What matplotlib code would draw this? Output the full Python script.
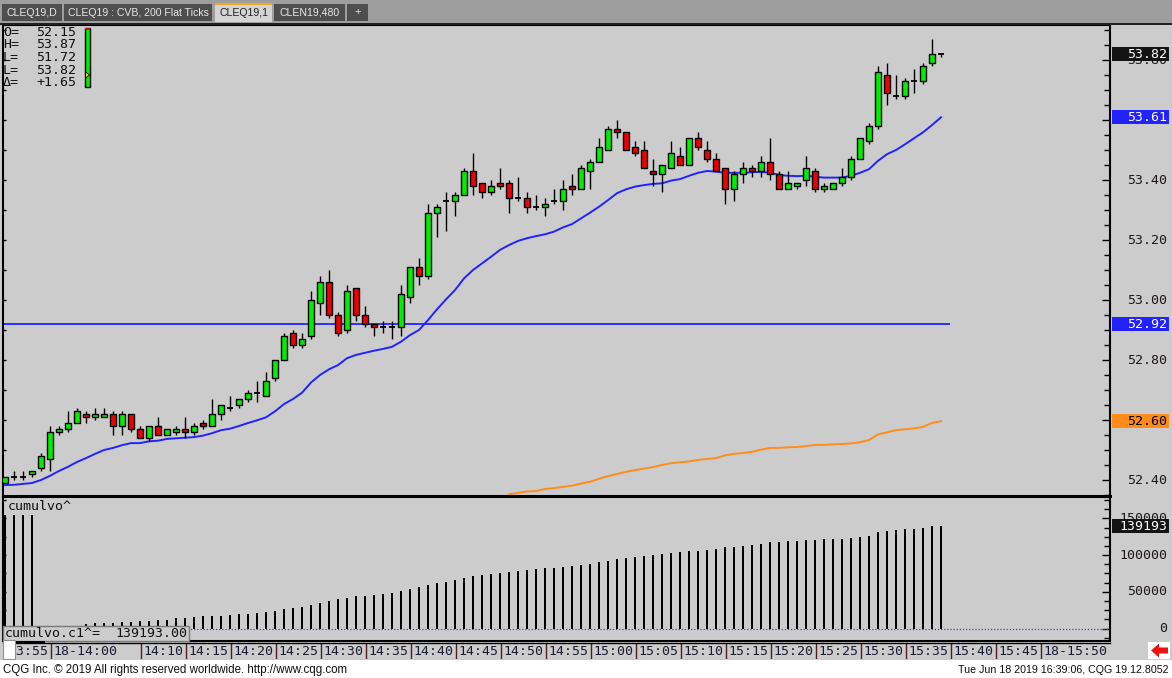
import matplotlib
matplotlib.use('Agg')
import matplotlib.pyplot as plt
import matplotlib.transforms as mtransforms
from matplotlib.patches import Rectangle, Polygon
from matplotlib.ticker import MultipleLocator, FixedLocator
import numpy as np

W, H = 1172, 678
BG = '#cccccc'
MONO = 'DejaVu Sans Mono'

# CLEQ19, 1 minute bars starting 13:55
opens = [52.39, 52.41, 52.41, 52.42, 52.44, 52.47, 52.56, 52.57, 52.59, 52.62,
         52.61, 52.61, 52.62, 52.58, 52.62, 52.57, 52.54, 52.58, 52.55, 52.56,
         52.57, 52.56, 52.59, 52.58, 52.62, 52.64, 52.65, 52.67, 52.69, 52.68,
         52.74, 52.80, 52.89, 52.85, 52.88, 52.99, 53.06, 52.95, 52.90, 53.04,
         52.95, 52.92, 52.91, 52.91, 52.91, 53.01, 53.11, 53.08, 53.29, 53.33,
         53.33, 53.35, 53.43, 53.39, 53.36, 53.39, 53.39, 53.34, 53.34, 53.31,
         53.31, 53.33, 53.33, 53.38, 53.37, 53.43, 53.46, 53.50, 53.57, 53.56,
         53.51, 53.50, 53.43, 53.42, 53.44, 53.48, 53.45, 53.54, 53.50, 53.47,
         53.44, 53.37, 53.42, 53.44, 53.43, 53.46, 53.42, 53.37, 53.38, 53.40,
         53.43, 53.37, 53.37, 53.39, 53.41, 53.47, 53.53, 53.58, 53.75, 53.68,
         53.68, 53.73, 53.73, 53.79, 53.82]
highs = [52.41, 52.43, 52.43, 52.43, 52.49, 52.58, 52.58, 52.63, 52.64, 52.63,
         52.64, 52.64, 52.63, 52.63, 52.62, 52.58, 52.58, 52.61, 52.57, 52.58,
         52.61, 52.59, 52.60, 52.67, 52.65, 52.68, 52.67, 52.70, 52.73, 52.76,
         52.80, 52.89, 52.90, 52.89, 53.03, 53.08, 53.10, 52.96, 53.05, 53.04,
         52.98, 52.92, 52.93, 52.93, 53.05, 53.11, 53.14, 53.32, 53.32, 53.36,
         53.36, 53.44, 53.49, 53.39, 53.40, 53.44, 53.40, 53.41, 53.36, 53.35,
         53.34, 53.37, 53.40, 53.42, 53.45, 53.47, 53.54, 53.58, 53.60, 53.56,
         53.53, 53.53, 53.47, 53.45, 53.53, 53.51, 53.54, 53.56, 53.53, 53.49,
         53.44, 53.43, 53.46, 53.45, 53.48, 53.54, 53.43, 53.43, 53.39, 53.48,
         53.44, 53.39, 53.39, 53.44, 53.48, 53.54, 53.59, 53.78, 53.79, 53.75,
         53.74, 53.77, 53.79, 53.87, 53.82]
lows = [52.39, 52.40, 52.40, 52.41, 52.43, 52.43, 52.55, 52.56, 52.59, 52.59,
        52.60, 52.61, 52.55, 52.55, 52.56, 52.54, 52.53, 52.55, 52.55, 52.55,
        52.54, 52.55, 52.57, 52.58, 52.60, 52.63, 52.64, 52.66, 52.66, 52.68,
        52.73, 52.80, 52.84, 52.84, 52.87, 52.95, 52.94, 52.88, 52.89, 52.93,
        52.91, 52.88, 52.89, 52.87, 52.88, 52.99, 53.05, 53.07, 53.21, 53.23,
        53.28, 53.35, 53.35, 53.34, 53.35, 53.37, 53.29, 53.33, 53.29, 53.30,
        53.28, 53.32, 53.30, 53.35, 53.37, 53.37, 53.46, 53.50, 53.54, 53.50,
        53.48, 53.44, 53.38, 53.36, 53.44, 53.45, 53.45, 53.50, 53.46, 53.43,
        53.32, 53.33, 53.39, 53.41, 53.41, 53.40, 53.37, 53.37, 53.37, 53.38,
        53.36, 53.36, 53.37, 53.38, 53.40, 53.47, 53.52, 53.57, 53.65, 53.67,
        53.67, 53.69, 53.72, 53.78, 53.81]
closes = [52.41, 52.41, 52.41, 52.43, 52.48, 52.56, 52.57, 52.59, 52.63, 52.61,
          52.62, 52.62, 52.58, 52.62, 52.57, 52.54, 52.58, 52.55, 52.57, 52.57,
          52.56, 52.58, 52.58, 52.62, 52.65, 52.64, 52.67, 52.69, 52.69, 52.73,
          52.80, 52.88, 52.85, 52.87, 53.00, 53.06, 52.95, 52.89, 53.03, 52.95,
          52.92, 52.91, 52.91, 52.91, 53.02, 53.11, 53.08, 53.29, 53.31, 53.33,
          53.35, 53.43, 53.38, 53.36, 53.38, 53.38, 53.34, 53.34, 53.31, 53.31,
          53.32, 53.33, 53.37, 53.37, 53.44, 53.46, 53.51, 53.57, 53.56, 53.50,
          53.49, 53.44, 53.42, 53.45, 53.49, 53.45, 53.54, 53.51, 53.47, 53.43,
          53.37, 53.42, 53.44, 53.43, 53.46, 53.42, 53.37, 53.39, 53.39, 53.44,
          53.37, 53.38, 53.39, 53.41, 53.47, 53.54, 53.58, 53.76, 53.69, 53.68,
          53.73, 53.73, 53.78, 53.82, 53.82]

blue_ma = [52.383, 52.384, 52.387, 52.390, 52.400, 52.414, 52.430, 52.444, 52.460, 52.473,
           52.487, 52.500, 52.507, 52.516, 52.523, 52.523, 52.529, 52.531, 52.537, 52.539,
           52.541, 52.543, 52.548, 52.556, 52.566, 52.571, 52.580, 52.590, 52.599, 52.609,
           52.629, 52.653, 52.670, 52.691, 52.725, 52.750, 52.769, 52.783, 52.806, 52.817,
           52.824, 52.831, 52.837, 52.844, 52.861, 52.883, 52.900, 52.933, 52.969, 53.002,
           53.033, 53.072, 53.100, 53.122, 53.144, 53.167, 53.183, 53.197, 53.206, 53.213,
           53.219, 53.228, 53.242, 53.253, 53.272, 53.291, 53.311, 53.333, 53.356, 53.369,
           53.378, 53.383, 53.387, 53.389, 53.398, 53.403, 53.414, 53.424, 53.430, 53.428,
           53.424, 53.424, 53.424, 53.426, 53.427, 53.424, 53.417, 53.414, 53.413, 53.414,
           53.411, 53.408, 53.408, 53.408, 53.414, 53.424, 53.436, 53.464, 53.486, 53.500,
           53.519, 53.539, 53.559, 53.583, 53.609]

orange_start = 56
orange_ma = [52.352, 52.357, 52.362, 52.363, 52.370, 52.373, 52.377, 52.381, 52.388, 52.394,
             52.404, 52.413, 52.420, 52.427, 52.433, 52.438, 52.443, 52.450, 52.456, 52.459,
             52.462, 52.467, 52.470, 52.473, 52.482, 52.487, 52.490, 52.494, 52.501, 52.507,
             52.507, 52.509, 52.510, 52.513, 52.517, 52.517, 52.519, 52.520, 52.522, 52.526,
             52.533, 52.552, 52.559, 52.566, 52.569, 52.572, 52.577, 52.590, 52.596]

cum_volume = [154600, 154600, 154600, 154600, 800, 1900, 2800, 3300, 3700,
              6130, 7040, 7490, 7950, 8860, 8860, 10220, 10220, 11580, 11580,
              13850, 14300, 15210, 16580, 17030, 17030, 18390, 19750, 19750, 21120,
              22480, 23840, 26570, 27930, 29290, 32020, 34740, 37470, 40190, 41550,
              44280, 44280, 45640, 47000, 48370, 51090, 53810, 56540, 59260, 61990,
              63350, 66080, 68800, 71530, 72890, 74250, 75610, 76980, 78340, 79700,
              81060, 82430, 82430, 83790, 85150, 86510, 87870, 90600, 91960, 94690,
              96050, 97410, 98770, 100140, 101500, 102860, 104220, 105590, 105590, 106950,
              108310, 111040, 111040, 112400, 113760, 115120, 117850, 117850, 119210, 119210,
              120570, 120570, 121930, 121930, 121930, 123300, 124660, 126020, 131470, 132830,
              134190, 135560, 135560, 136920, 139000, 139193]

time_labels = ['13:55', '18-14:00', '14:10', '14:15', '14:20', '14:25', '14:30', '14:35',
               '14:40', '14:45', '14:50', '14:55', '15:00', '15:05', '15:10', '15:15',
               '15:20', '15:25', '15:30', '15:35', '15:40', '15:45', '18-15:50']
first_bar_minute = 13 * 60 + 55

price_ticks = [52.40, 52.60, 52.80, 53.00, 53.20, 53.40, 53.60, 53.80]
volume_ticks = [0, 50000, 100000, 150000]
settle_price = 52.92
last_price = 53.82
last_volume = 139193

header_keys = ['O=', 'H=', 'L=', 'L=', '\u0394=']
header_values = ['52.15', '53.87', '51.72', '53.82', '+1.65']
tab_names = ['CLEQ19,D', 'CLEQ19 : CVB, 200 Flat Ticks', 'CLEQ19,1', 'CLEN19,480', '+']
footer_left = 'CQG Inc. \u00a9 2019 All rights reserved worldwide. http://www.cqg.com'
footer_right = 'Tue Jun 18 2019 16:39:06, CQG 19.12.8052'

# ---------------------------------------------------------------------------
fig = plt.figure(figsize=(W / 100, H / 100), dpi=100, facecolor=BG)


def add_px_axes(x0, y0, x1, y1, **kw):
    return fig.add_axes([x0 / W, 1 - y1 / H, (x1 - x0) / W, (y1 - y0) / H], **kw)


idx = np.arange(len(closes))
o = np.array(opens)
hi = np.array(highs)
lo = np.array(lows)
c = np.array(closes)
x_lo, x_hi = (3 - 5) / 9, (1110 - 5) / 9

# overlay in pixel coords (tabs, footer, labels)
deco = fig.add_axes([0, 0, 1, 1], zorder=10)
deco.set_xlim(0, W)
deco.set_ylim(H, 0)
deco.axis('off')
deco.patch.set_alpha(0)

# ---- price panel ----
ax = add_px_axes(3, 25, 1110, 496, facecolor=BG)
ax.set_xlim(x_lo, x_hi)
ax.set_ylim(52.3467, 53.9167)
for side in ['left', 'right', 'top']:
    ax.spines[side].set_linewidth(1.5)
ax.spines['bottom'].set_linewidth(2.2)
ax.set_xticks([])
ax.yaxis.set_ticks_position('right')
ax.yaxis.set_major_locator(FixedLocator(price_ticks))
ax.yaxis.set_minor_locator(MultipleLocator(0.05))
ax.tick_params(axis='y', which='major', direction='in', length=6, width=1, labelright=False)
ax.tick_params(axis='y', which='minor', direction='in', length=4, width=1)
ax.hlines(np.arange(52.4, 53.91, 0.1), 0, 3 / 1107, transform=ax.get_yaxis_transform(),
          color='black', lw=1)

up = c > o + 1e-9
down = c < o - 1e-9
flat = ~(up | down)
ax.vlines(idx, lo, hi, color='black', lw=1, zorder=3)
ax.bar(idx[up], (c - o)[up], bottom=o[up], width=0.58, color='#00ee00',
       edgecolor='black', linewidth=1, zorder=4)
ax.bar(idx[down], (o - c)[down], bottom=c[down], width=0.58, color='#ee0000',
       edgecolor='black', linewidth=1, zorder=4)
ax.hlines(c[flat], idx[flat] - 0.32, idx[flat] + 0.32, color='black', lw=1.3, zorder=4)

ax.plot(idx, blue_ma, color='#2222ff', lw=1.4, zorder=2)
ax.plot(idx[orange_start:], orange_ma, color='#ff8c1a', lw=1.4, zorder=2)
ax.hlines(settle_price, x_lo, (950 - 5) / 9, color='#2222ff', lw=1.3, zorder=2)

# ---- volume panel ----
av = add_px_axes(3, 497, 1110, 641, facecolor=BG)
av.set_xlim(x_lo, x_hi)
vol_per_px = 50000 / 36.7
av.set_ylim(-12.5 * vol_per_px, 131.5 * vol_per_px)
for side in ['left', 'right', 'top', 'bottom']:
    av.spines[side].set_linewidth(1.5)
av.set_xticks([])
av.yaxis.set_ticks_position('right')
av.yaxis.set_major_locator(FixedLocator(volume_ticks))
av.yaxis.set_minor_locator(MultipleLocator(12500))
av.tick_params(axis='y', which='major', direction='in', length=6, width=1, labelright=False)
av.tick_params(axis='y', which='minor', direction='in', length=4, width=1)
av.hlines(np.arange(0, 175001, 25000), 0, 3 / 1107, transform=av.get_yaxis_transform(),
          color='black', lw=1)
av.bar(idx, cum_volume, width=0.29, color='black', zorder=3)
av.axhline(0, color='#6a2fd0', lw=0.9, ls=(0, (1, 1.5)), zorder=2)

# ---- time axis ----
at = add_px_axes(3, 643, 1110, 659, facecolor=BG)
at.set_xlim(x_lo, x_hi)
at.set_ylim(0, 1)
for side in ['left', 'right', 'bottom']:
    at.spines[side].set_visible(False)
at.spines['top'].set_linewidth(1)
at.set_xticks([])
at.set_yticks([])
for lab in time_labels:
    hh, mm = lab[-5:].split(':')
    pos = int(hh) * 60 + int(mm) - first_bar_minute
    at.vlines(pos + 0.1, 0, 1, color='#4a2020', lw=1)
    at.text(pos + 0.42, 0.45, lab, ha='left', va='center', fontsize=9.5,
            family=MONO, color='#1a1a30')


# ---- right scale labels and value boxes ----
def scale_label(axis, value, text):
    blend = mtransforms.blended_transform_factory(deco.transData, axis.transData)
    axis.text(1167, value, text, transform=blend, ha='right', va='center', fontsize=9.5,
              family=MONO, color='#201818', clip_on=False, zorder=15)


def value_box(axis, value, text, face, color, per_px):
    blend = mtransforms.blended_transform_factory(deco.transData, axis.transData)
    axis.add_patch(Rectangle((1112, value - 7 * per_px), 57, 14 * per_px, transform=blend,
                             facecolor=face, edgecolor='none', clip_on=False, zorder=20))
    axis.text(1167, value, text, transform=blend, ha='right', va='center', fontsize=9.5,
              family=MONO, color=color, clip_on=False, zorder=21)


price_per_px = (53.9167 - 52.3467) / 471
price_boxes = [(last_price, '#141414', 'white'), (blue_ma[-1], '#2222ff', 'white'),
               (settle_price, '#2222ff', 'white'), (orange_ma[-1], '#ff8c1a', 'black')]
for p in price_ticks:
    # labels fully covered by a value box are not visible
    if all(abs(p - b[0]) > 5 * price_per_px for b in price_boxes):
        scale_label(ax, p, f'{p:.2f}')
for val, face, col in price_boxes:
    value_box(ax, val, f'{val:.2f}', face, col, price_per_px)

for v in volume_ticks:
    scale_label(av, v, f'{v}')
value_box(av, last_volume, f'{last_volume}', '#141414', 'white', vol_per_px)

# ---- tab bar ----
deco.add_patch(Rectangle((0, 0), W, 23, facecolor='#9e9e9e', edgecolor='none'))
deco.add_patch(Rectangle((0, 22.5), W, 2, facecolor='#202020', edgecolor='none'))
tab_spans = [(2, 62), (64, 212), (215, 272), (274, 345), (347, 368)]
active_tab = 2
for k, (name, (t0, t1)) in enumerate(zip(tab_names, tab_spans)):
    if k == active_tab:
        deco.add_patch(Rectangle((t0, 3), t1 - t0, 19, facecolor='#d4d4d4', edgecolor='none'))
        deco.add_patch(Rectangle((t0, 3), t1 - t0, 1.6, facecolor='#f5a623', edgecolor='none'))
        col = '#202020'
    else:
        deco.add_patch(Rectangle((t0, 4), t1 - t0, 17, facecolor='#4e4e4e', edgecolor='none'))
        col = '#e8e8e8'
    deco.text((t0 + t1) / 2, 12.5, name, ha='center', va='center',
              fontsize=8 if name == '+' else 7.6, family='Liberation Sans', color=col)

# ---- header box (OHLC) ----
for k, (key, val) in enumerate(zip(header_keys, header_values)):
    y = 32 + 12.7 * k
    deco.text(3, y, key, ha='left', va='center', fontsize=9.5, family=MONO, color='#101010')
    deco.text(76, y, val, ha='right', va='center', fontsize=9.5, family=MONO, color='#101010')
deco.add_patch(Rectangle((85, 28), 4.5, 59, facecolor='#00ee00', edgecolor='black', lw=1))
deco.add_patch(Rectangle((85, 28), 4.5, 1.8, facecolor='#dd0000', edgecolor='none'))
deco.add_patch(Polygon([(85.5, 72), (85.5, 78), (89.5, 75)], closed=True,
                       facecolor='#ffd400', edgecolor='black', lw=0.6))

# ---- volume study labels ----
deco.text(8, 507, 'cumulvo^', ha='left', va='center', fontsize=9.5, family=MONO, color='#101010')
deco.add_patch(Rectangle((3, 625.5), 186, 15.5, facecolor=BG, edgecolor='#7a7a7a', lw=1))
deco.text(5, 633.5, 'cumulvo.c1^=', ha='left', va='center', fontsize=9.5, family=MONO,
          color='#101010')
deco.text(187, 633.5, f'{last_volume:.2f}', ha='right', va='center', fontsize=9.5,
          family=MONO, color='#101010')

# ---- scrollbar bits and footer ----
deco.add_patch(Rectangle((15, 640.5), 30, 2.5, facecolor='black', edgecolor='none'))
deco.add_patch(Rectangle((3, 640), 12, 19, facecolor='white', edgecolor='#909090', lw=0.8))
deco.add_patch(Rectangle((1148, 642), 22, 17, facecolor='white', edgecolor='none'))
deco.add_patch(Polygon([(1151, 650.5), (1159, 643.5), (1159, 647.5), (1168, 647.5),
                        (1168, 653.5), (1159, 653.5), (1159, 657.5)], closed=True,
                       facecolor='#ee1111', edgecolor='none'))
deco.add_patch(Rectangle((0, 660), W, 18, facecolor='white', edgecolor='none'))
deco.text(3, 670, footer_left, ha='left', va='center', fontsize=8.3,
          family='Liberation Sans', color='#101010')
deco.text(1169, 670, footer_right, ha='right', va='center', fontsize=7.7,
          family='Liberation Sans', color='#101010')

fig.savefig('out.png', dpi=100, facecolor=fig.get_facecolor())
